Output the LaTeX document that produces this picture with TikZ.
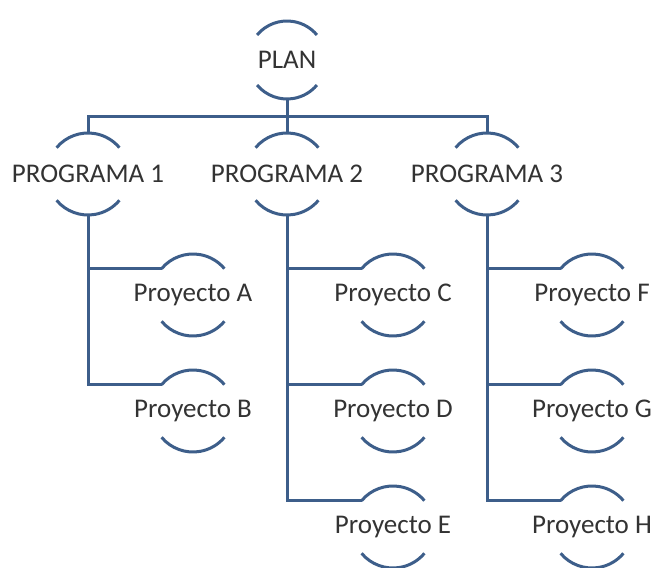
\documentclass[tikz,border=0pt]{standalone}
\usepackage{fontspec}
\setmainfont{Carlito}
\begin{document}
\definecolor{linkblue}{HTML}{3D5E8A}
\definecolor{labelgray}{HTML}{333333}
\begin{tikzpicture}[x=1pt,y=1pt,
  unit/.style={circle, inner sep=0pt, outer sep=0pt, minimum size=82pt,
    font=\fontsize{27}{31}\selectfont, text=labelgray},
  topunit/.style={unit, minimum size=78pt},
  link/.style={draw=linkblue, line width=3pt},
  bow/.style={draw=linkblue, line width=3pt}]
  \fill[white] (0,0) rectangle (654,568);
  \useasboundingbox (0,0) rectangle (654,568);
  \clip (0,0) rectangle (654,568);

  % top level
  \node[topunit] (plan) at (287,508) {\makebox[0pt][c]{PLAN}};
  % programmes
  \node[unit] (p1) at (88,394) {\makebox[0pt][c]{PROGRAMA 1}};
  \node[unit] (p2) at (287,394) {\makebox[0pt][c]{PROGRAMA 2}};
  \node[unit] (p3) at (487,394) {\makebox[0pt][c]{PROGRAMA 3}};
  % projects
  \node[unit] (a) at (193,273) {\makebox[0pt][c]{Proyecto A}};
  \node[unit] (b) at (193,157) {\makebox[0pt][c]{Proyecto B}};
  \node[unit] (c) at (393,273) {\makebox[0pt][c]{Proyecto C}};
  \node[unit] (d) at (393,157) {\makebox[0pt][c]{Proyecto D}};
  \node[unit] (e) at (393,41)  {\makebox[0pt][c]{Proyecto E}};
  \node[unit] (f) at (592,273) {\makebox[0pt][c]{Proyecto F}};
  \node[unit] (g) at (592,157) {\makebox[0pt][c]{Proyecto G}};
  \node[unit] (h) at (592,41)  {\makebox[0pt][c]{Proyecto H}};

  % arcs above and below each label
  \path[bow] (plan.140) arc[start angle=140, end angle=40, radius=39pt]
             (plan.220) arc[start angle=220, end angle=320, radius=39pt];
  \foreach \n in {p1,p2,p3,a,b,c,d,e,f,g,h}
    \path[bow] (\n.140) arc[start angle=140, end angle=40, radius=41pt]
               (\n.220) arc[start angle=220, end angle=320, radius=41pt];

  % plan to programmes
  \draw[link] (plan.south) -- ++(0,-18) coordinate (bus);
  \draw[link] (p1.north) |- (bus) -| (p3.north);
  \draw[link] (p2.north) -- (p2.north |- bus);

  % programmes to projects
  \draw[link] (p1.south) |- (a.140);
  \draw[link] (p1.south) |- (b.140);
  \draw[link] (p2.south) |- (c.140);
  \draw[link] (p2.south) |- (d.140);
  \draw[link] (p2.south) |- (e.140);
  \draw[link] (p3.south) |- (f.140);
  \draw[link] (p3.south) |- (g.140);
  \draw[link] (p3.south) |- (h.140);
\end{tikzpicture}
\end{document}
